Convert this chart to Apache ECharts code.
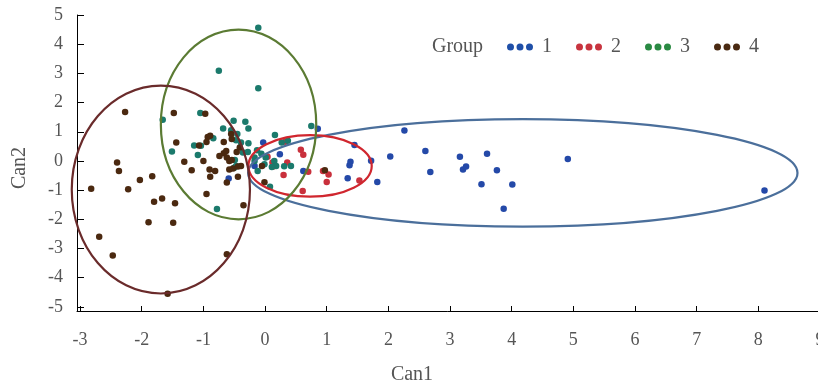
<!DOCTYPE html>
<html><head><meta charset="utf-8">
<script src="https://cdn.jsdelivr.net/npm/echarts@6/dist/echarts.min.js"></script>
<style>html,body{margin:0;padding:0;background:#fff}#c{width:818px;height:386px}</style>
</head><body><div id="c"></div>
<script>
const xTicks = [-3,-2,-1,0,1,2,3,4,5,6,7,8,9];
const yTicks = [-5,-4,-3,-2,-1,0,1,2,3,4,5];
const groupNames = ['1','2','3','4'];

const group1 = [[-0.59,-0.60],[-0.17,-0.17],[-0.03,0.63],[0.24,0.23],[0.62,-0.34],[0.855,1.10],[1.34,-0.59],[1.37,-0.15],[1.385,-0.03],[1.45,0.55],[1.72,0.01],[1.82,-0.72],[2.03,0.15],[2.26,1.04],[2.60,0.34],[2.68,-0.38],[3.16,0.14],[3.21,-0.29],[3.26,-0.19],[3.51,-0.80],[3.60,0.25],[3.76,-0.32],[3.87,-1.64],[4.01,-0.81],[4.91,0.07],[8.10,-1.01]];
const group2 = [[0.04,0.14],[0.12,-0.05],[0.13,-0.19],[0.30,-0.48],[0.33,0.66],[0.36,-0.05],[0.58,0.38],[0.62,0.21],[0.61,-1.03],[0.70,-0.37],[0.94,-0.34],[1.03,-0.46],[1.00,-0.72],[1.53,-0.67]];
const group3 = [[-0.11,4.56],[-0.75,3.09],[-0.11,2.49],[-1.66,1.41],[-1.05,1.64],[-0.68,1.11],[-0.51,1.38],[-0.32,1.34],[-0.27,1.11],[-0.55,1.05],[-0.84,0.78],[-0.45,0.92],[-0.47,0.71],[-0.39,0.63],[-0.27,0.61],[-1.15,0.53],[-1.04,0.52],[-1.51,0.32],[-1.09,0.20],[-0.36,0.29],[-0.28,0.31],[-0.49,0.03],[-0.50,-0.23],[-0.47,-0.17],[-0.78,-1.65],[0.08,-0.88],[0.75,1.20],[0.16,0.89],[0.37,0.69],[0.27,0.63],[-0.13,0.37],[-0.06,0.25],[0.01,0.12],[0.15,0.00],[0.18,-0.17],[0.11,-0.21],[0.31,-0.18],[0.42,-0.17],[-0.17,0.00],[-0.01,-0.11],[-0.12,-0.34],[-0.17,0.12]];
const group4 = [[-2.27,1.68],[-1.48,1.64],[-0.97,1.62],[-1.44,0.63],[-2.40,-0.05],[-2.37,-0.34],[-2.03,-0.65],[-1.83,-0.52],[-2.82,-0.95],[-2.22,-0.97],[-1.80,-1.40],[-1.67,-1.29],[-1.46,-1.45],[-1.89,-2.10],[-1.49,-2.12],[-2.69,-2.60],[-2.47,-3.24],[-0.62,-3.20],[-1.58,-4.55],[-1.31,-0.03],[-1.19,-0.32],[-1.07,0.53],[-1.00,0.00],[-0.95,-1.13],[-0.90,-0.29],[-0.81,-0.34],[-0.89,-0.54],[-0.93,0.82],[-0.89,0.86],[-0.95,0.65],[-0.67,0.65],[-0.54,0.75],[-0.55,0.92],[-0.67,0.26],[-0.62,0.12],[-0.58,0.00],[-0.54,0.03],[-0.46,0.31],[-0.52,-0.26],[-0.44,-0.19],[-0.39,-0.17],[-0.62,-0.74],[-0.44,-0.54],[-0.35,-1.52],[-0.74,0.17],[-0.58,-0.29],[-0.63,0.34],[-0.41,0.46],[-0.05,-0.17],[-0.01,-0.73],[0.97,-0.32]];

// ellipses: [centerX, centerY, radiusX, radiusY] in data units
const ellipse1 = [4.18,-0.41,4.455,1.84];
const ellipse2 = [0.73,-0.17,1.00,1.055];
const ellipse3 = [-0.43,1.25,1.26,3.25];
const ellipse4 = [-1.69,-0.98,1.445,3.56];

const pointColors = ['#2449a8','#c9303c','#1b7a6c','#4b2910'];
const legendColors = ['#1f4fa8','#c8343f','#2a8a43','#4a2a12'];
const ellipseColors = ['#4b6f9b','#d0262e','#5b7b33','#6a2b2b'];

const FONT = '"Liberation Serif","DejaVu Serif",serif';
const TXT = '#555555';
const dots = 'path://M0,3.5a3.5,3.5 0 1,0 7,0a3.5,3.5 0 1,0 -7,0M9.5,3.5a3.5,3.5 0 1,0 7,0a3.5,3.5 0 1,0 -7,0M19,3.5a3.5,3.5 0 1,0 7,0a3.5,3.5 0 1,0 -7,0';

const groups = [group1, group2, group3, group4];
const ellipses = [ellipse1, ellipse2, ellipse3, ellipse4];

const series = [];
groups.forEach((g, i) => {
  series.push({
    name: groupNames[i], type: 'scatter', data: g, symbolSize: 6.5,
    itemStyle: {color: pointColors[i], opacity: 1}, z: 2
  });
});
ellipses.forEach((e, i) => {
  series.push({
    type: 'custom', data: [e], z: 3, silent: true,
    renderItem: function (params, api) {
      const c = api.coord([api.value(0), api.value(1)]);
      const s = api.size([api.value(2), api.value(3)]);
      return {type: 'ellipse', shape: {cx: c[0], cy: c[1], rx: s[0], ry: s[1]},
        style: {fill: null, stroke: ellipseColors[i], lineWidth: 2.2}};
    },
    encode: {x: 0, y: 1}
  });
});

const chart = echarts.init(document.getElementById('c'));
chart.setOption({
  animation: false,
  backgroundColor: '#fff',
  grid: {left: 77, right: -2, top: 15, bottom: 75, containLabel: false, outerBoundsMode: 'none'},
  xAxis: {
    type: 'value', min: -3.05, max: 9,
    name: 'Can1', nameLocation: 'middle', nameGap: 54,
    nameTextStyle: {fontFamily: FONT, fontSize: 20, color: TXT, padding: [0, 73, 0, 0]},
    axisLine: {show: true, onZero: false, lineStyle: {color: '#000', width: 1}},
    axisTick: {show: true, inside: true, length: 5, customValues: xTicks, lineStyle: {color: '#000'}},
    axisLabel: {customValues: xTicks, margin: 20, fontFamily: FONT, fontSize: 18, color: TXT, hideOverlap: false},
    splitLine: {show: false}
  },
  yAxis: {
    type: 'value', min: -5.14, max: 5,
    name: 'Can2', nameLocation: 'middle', nameGap: 47, nameRotate: 90,
    nameTextStyle: {fontFamily: FONT, fontSize: 20, color: TXT, padding: [0, 10, 0, 0]},
    axisLine: {show: true, onZero: false, lineStyle: {color: '#000', width: 1}},
    axisTick: {show: true, inside: true, length: 7, customValues: yTicks, lineStyle: {color: '#000'}},
    axisLabel: {customValues: yTicks, margin: 14, fontFamily: FONT, fontSize: 18, color: TXT},
    splitLine: {show: false}
  },
  legend: {
    left: 507, top: 37, orient: 'horizontal', padding: 0,
    itemWidth: 26, itemHeight: 7, itemGap: 24,
    textStyle: {fontFamily: FONT, fontSize: 20, color: TXT, padding: [0, 0, 0, 4]},
    data: groupNames.map((n, i) => ({name: n, icon: dots, itemStyle: {color: legendColors[i]}}))
  },
  graphic: [{
    type: 'text', left: 432, top: 37,
    style: {text: 'Group', fontFamily: FONT, fontSize: 20, fill: TXT}
  }],
  series: series
});
</script></body></html>
